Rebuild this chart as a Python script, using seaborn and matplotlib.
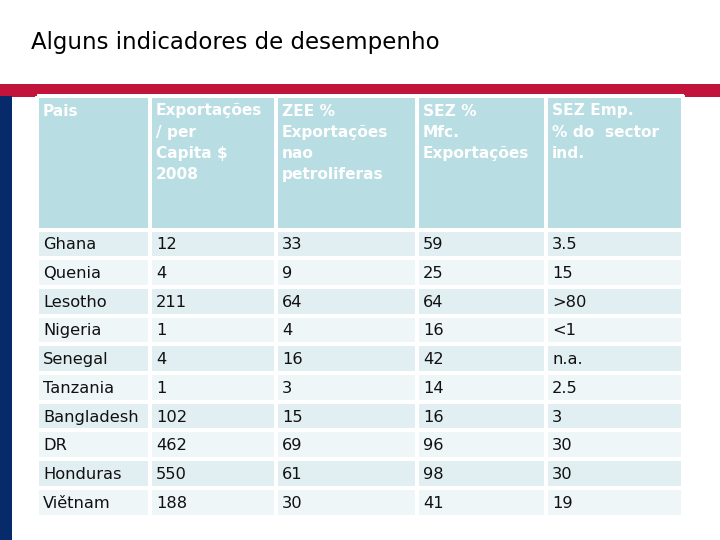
import matplotlib
matplotlib.use("Agg")
import matplotlib.pyplot as plt
from matplotlib.colors import ListedColormap
import numpy as np
import seaborn as sns

# table content
headers = [
    "Pais",
    "Exportações\n/ per\nCapita $\n2008",
    "ZEE %\nExportações\nnao\npetroliferas",
    "SEZ %\nMfc.\nExportações",
    "SEZ Emp.\n% do  sector\nind.",
]
countries = ["Ghana", "Quenia", "Lesotho", "Nigeria", "Senegal", "Tanzania",
             "Bangladesh", "DR", "Honduras", "Viětnam"]
exports_pc = ["12", "4", "211", "1", "4", "1", "102", "462", "550", "188"]
zee_pct = ["33", "9", "64", "4", "16", "3", "15", "69", "61", "30"]
sez_mfc = ["59", "25", "64", "16", "42", "14", "16", "96", "98", "41"]
sez_emp = ["3.5", "15", ">80", "<1", "n.a.", "2.5", "3", "30", "30", "19"]

title = "Alguns indicadores de desempenho"

sns.set_theme(style="white")
plt.rcParams["font.family"] = ["DejaVu Sans"]

# layout (pixel units)
col_w = [113, 126, 141, 129, 137]
table_left, table_top = 37, 96
header_h, row_h = 133.5, 28.7

x_edges = table_left + np.concatenate([[0], np.cumsum(col_w)])
n_rows = len(countries)
y_edges = table_top + np.concatenate([[0], header_h + row_h * np.arange(n_rows + 1)])

# 0 = header, 1 = darker band, 2 = lighter band
fill = np.zeros((n_rows + 1, len(col_w)))
for i in range(n_rows):
    fill[i + 1, :] = 1 if i % 2 == 0 else 2
cmap = ListedColormap(["#b8dde2", "#e2eff2", "#eff6f8"])

fig = plt.figure(figsize=(7.2, 5.4), dpi=100)
ax = fig.add_axes([0, 0, 1, 1])
ax.set_xlim(0, 720)
ax.set_ylim(540, 0)
ax.axis("off")

# slide decoration
ax.fill_between([0, 720], 83.5, 96.5, color="#c2133a", lw=0)
ax.fill_betweenx([96, 540], 0, 12, color="#072b6a", lw=0)

ax.pcolormesh(x_edges, y_edges, fill, cmap=cmap, vmin=-0.5, vmax=2.5,
              edgecolors="white", linewidth=1.5)

ax.text(31, 43, title, fontsize=16.5, color="black", va="center", ha="left")

for j, h in enumerate(headers):
    ax.text(x_edges[j] + 6, table_top + 7.5, h, color="white", fontsize=11.1,
            fontweight="bold", va="top", ha="left", linespacing=1.52)

columns = [countries, exports_pc, zee_pct, sez_mfc, sez_emp]
for i in range(n_rows):
    yc = (y_edges[i + 1] + y_edges[i + 2]) / 2 + 1
    for j, col in enumerate(columns):
        ax.text(x_edges[j] + 6, yc, col[i], color="#111111", fontsize=11.7,
                va="center", ha="left")

fig.savefig("out.png", dpi=100)
plt.close(fig)
